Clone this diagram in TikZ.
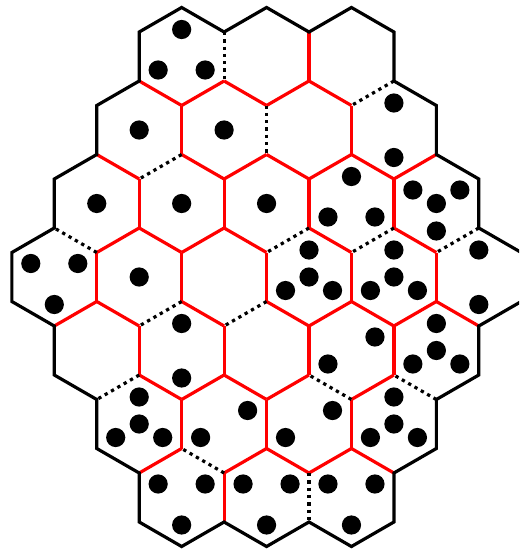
\documentclass[tikz,border=0pt]{standalone}
\usetikzlibrary{calc}
\begin{document}
\begin{tikzpicture}[x=1pt,y=-1pt,
  hexline/.style={line width=3.2pt,black},
  redline/.style={line width=3.2pt,red},
  dotline/.style={line width=3.2pt,black,dash pattern=on 3.3pt off 4pt},
  pip/.style={fill=black}]
\useasboundingbox (0,0) rectangle (519,551);
\clip (0,0) rectangle (519,551);
% hex centres and vertices
\foreach \n/\c/\r in {A1/3/0,A2/5/0,A3/7/0,
  B1/2/1,B2/4/1,B3/6/1,B4/8/1,
  C1/1/2,C2/3/2,C3/5/2,C4/7/2,C5/9/2,
  D1/0/3,D2/2/3,D3/4/3,D4/6/3,D5/8/3,D6/10/3,
  E1/1/4,E2/3/4,E3/5/4,E4/7/4,E5/9/4,
  F1/2/5,F2/4/5,F3/6/5,F4/8/5,
  G1/3/6,G2/5/6,G3/7/6}{
  \coordinate (\n) at ({54.3+42.45*\c},{56.5+73.5*\r});
  \coordinate (\n-T)  at ($(\n)+(0,-49)$);
  \coordinate (\n-UR) at ($(\n)+(42.45,-24.5)$);
  \coordinate (\n-LR) at ($(\n)+(42.45,24.5)$);
  \coordinate (\n-B)  at ($(\n)+(0,49)$);
  \coordinate (\n-LL) at ($(\n)+(-42.45,24.5)$);
  \coordinate (\n-UL) at ($(\n)+(-42.45,-24.5)$);
  \coordinate (\n-pC)  at (\n);
  \coordinate (\n-pT)  at ($(\n)+(0,-27)$);
  \coordinate (\n-pUR) at ($(\n)+(23.5,-13.5)$);
  \coordinate (\n-pLR) at ($(\n)+(23.5,13.5)$);
  \coordinate (\n-pB)  at ($(\n)+(0,27.5)$);
  \coordinate (\n-pLL) at ($(\n)+(-23.5,13.5)$);
  \coordinate (\n-pUL) at ($(\n)+(-23.5,-13.5)$);
}
% red internal edges
\foreach \h in {A2,B1,B3,C1,C2,C3,C4,D1,D2,D3,D4,D5,E1,E2,E3,E4,F1,F2,F3,G1}
  \draw[redline] (\h-UR) -- (\h-LR);
\foreach \h in {A1,A2,B2,B3,B4,C1,C2,D1,D4,D5,E2,E3,E4,F1,F2,F3}
  \draw[redline] (\h-LR) -- (\h-B);
\foreach \h in {A1,A2,A3,B1,B2,B3,B4,C2,C3,C4,C5,D2,D3,D4,D5,D6,E2,E3,F3,F4}
  \draw[redline] (\h-B) -- (\h-LL);
% dotted internal edges
\foreach \h in {A1,B2,G2}
  \draw[dotline] (\h-UR) -- (\h-LR);
\foreach \h in {A3,B1,C3,C4,C5,D2,D3,E1}
  \draw[dotline] (\h-LR) -- (\h-B);
\foreach \h in {C1,E4,E5,F2}
  \draw[dotline] (\h-B) -- (\h-LL);
% outer boundary
\draw[hexline] (A1-UL) -- (A1-T) -- (A1-UR) -- (A2-T) -- (A2-UR) -- (A3-T) -- (A3-UR)
  -- (A3-LR) -- (B4-UR) -- (B4-LR) -- (C5-UR) -- (C5-LR) -- (D6-UR) -- (D6-LR)
  -- (D6-B) -- (E5-LR) -- (E5-B) -- (F4-LR) -- (F4-B) -- (G3-LR) -- (G3-B)
  -- (G3-LL) -- (G2-B) -- (G2-LL) -- (G1-B) -- (G1-LL) -- (G1-UL) -- (F1-LL)
  -- (F1-UL) -- (E1-LL) -- (E1-UL) -- (D1-LL) -- (D1-UL) -- (D1-T) -- (C1-UL)
  -- (C1-T) -- (B1-UL) -- (B1-T) -- cycle;
% pips
\foreach \h/\p in {A1/T,A1/LL,A1/LR,B1/C,B2/C,B4/T,B4/B,
  C1/C,C2/C,C3/C,C4/T,C4/LL,C4/LR,C5/UL,C5/UR,C5/C,C5/B,
  D1/UL,D1/UR,D1/B,D2/C,D4/T,D4/C,D4/LL,D4/LR,D5/T,D5/C,D5/LL,D5/LR,D6/T,D6/B,
  E2/T,E2/B,E4/UR,E4/LL,E5/T,E5/C,E5/LL,E5/LR,
  F1/T,F1/C,F1/LL,F1/LR,F2/UR,F2/LL,F3/UR,F3/LL,F4/T,F4/C,F4/LL,F4/LR,
  G1/UL,G1/UR,G1/B,G2/UL,G2/UR,G2/B,G3/UL,G3/UR,G3/B}
  \fill[pip] (\h-p\p) circle (9.6);
\end{tikzpicture}
\end{document}
